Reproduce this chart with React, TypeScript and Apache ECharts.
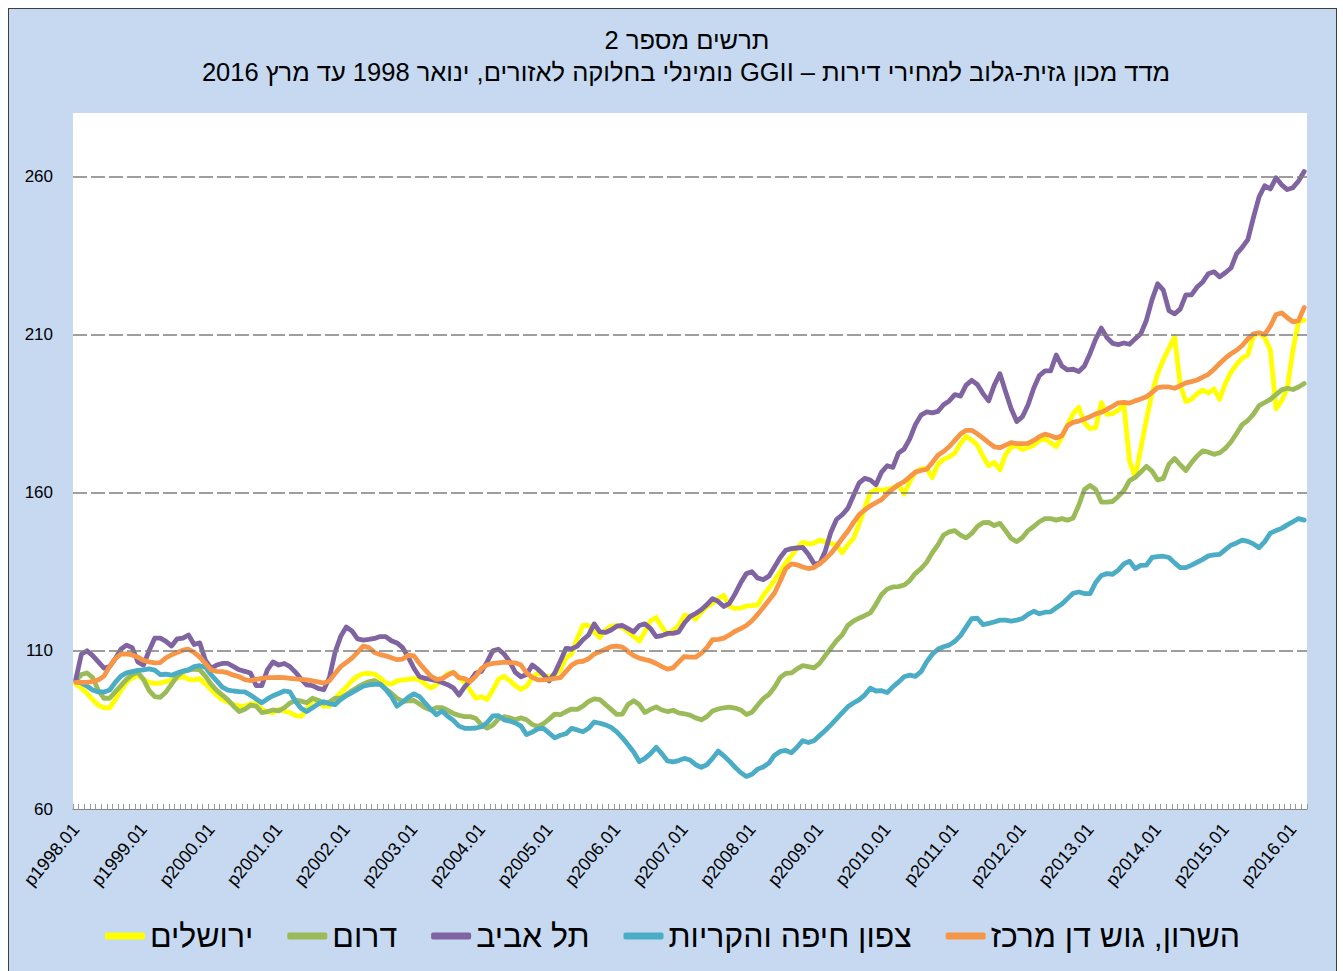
import React, { useEffect, useRef } from "react";
import * as echarts from "echarts";

// ---------- categories (monthly, Jan 1998 – Mar 2016) ----------
const YEARS = [1998, 1999, 2000, 2001, 2002, 2003, 2004, 2005, 2006, 2007, 2008, 2009, 2010, 2011, 2012, 2013, 2014, 2015, 2016];
const MONTHS = ["01", "02", "03", "04", "05", "06", "07", "08", "09", "10", "11", "12"];
const LAST_MONTH_OF_2016 = 3;
const CATEGORIES: string[] = [];
for (const y of YEARS) {
  for (let m = 0; m < 12; m++) {
    if (y === 2016 && m >= LAST_MONTH_OF_2016) break;
    CATEGORIES.push(`p${y}.${MONTHS[m]}`);
  }
}

// ---------- axis ----------
const Y_MIN = 60;
const Y_MAX = 280;
const Y_INTERVAL = 50;
const Y_TICK_LABELS = [60, 110, 160, 210, 260];
const GRID_LINES = [110, 160, 210, 260];

// ---------- texts ----------
const TITLE_1 = "תרשים מספר 2";
const TITLE_2 = "מדד מכון גזית-גלוב למחירי דירות – GGII נומינלי בחלוקה לאזורים, ינואר 1998 עד מרץ 2016";
const NAME_SHARON = "השרון, גוש דן מרכז";
const NAME_HAIFA = "צפון חיפה והקריות";
const NAME_TEL_AVIV = "תל אביב";
const NAME_SOUTH = "דרום";
const NAME_JERUSALEM = "ירושלים";

// ---------- series values (one row per year) ----------
const TEL_AVIV = [
  101, 109, 110, 108.5, 106.5, 104.5, 105, 107.5, 110.5, 111.8, 111, 106.5,
  105.5, 110, 114, 114, 113, 111.5, 113.8, 114, 115, 112, 112.5, 107,
  104.5, 105.5, 106, 106, 105, 104, 103.5, 103, 99, 99, 104, 106.5,
  105.5, 106, 105, 103.2, 101, 99.2, 99, 98.1, 97.7, 101.5, 109.5, 114.5,
  117.5, 116.3, 113.8, 113.4, 113.6, 113.9, 114.5, 114.5, 113.2, 112.5, 111, 108,
  104.5, 101.8, 101.3, 101, 100.6, 100, 99.3, 98.3, 96, 98.6, 100.5, 103,
  103.5, 106.5, 110, 110.5, 109, 106.6, 103.2, 101.8, 102.5, 105.5, 104.2, 102.5,
  100.5, 103, 106.8, 110.8, 110.6, 111.5, 113.5, 115, 118.5, 116, 115.8, 116.6,
  117.8, 118, 117, 116, 118, 118.5, 117, 114.5, 114.8, 115.5, 115.5, 116,
  118.8, 120.8, 121.8, 123, 124.6, 126.5, 125.6, 124, 125, 128, 131.5, 134.4,
  135, 133, 132.5, 133.6, 136.5, 139.5, 141.8, 142.3, 142.5, 142.7, 140.5, 137.6,
  137.5, 141.5, 147.5, 151.5, 153, 155, 159, 163, 164.5, 164, 162.5, 166.5,
  168.5, 168, 172.5, 173.8, 177, 181.5, 184.5, 185.5, 185.2, 185.7, 187.8, 189,
  191, 190.5, 194, 195.5, 194.2, 191.3, 189, 194, 197.6, 192, 186.5, 182.5,
  184, 187.8, 193, 197, 198.5, 198.5, 203.5, 200, 198.8, 199, 198.3, 200,
  204, 208.5, 212, 209, 207.2, 206.8, 207.3, 206.9, 208.6, 210.2, 214.5, 221,
  226, 224, 217.5, 216.5, 218, 222.5, 222.5, 225, 226.6, 229.2, 229.8, 228.2,
  229.5, 231, 235.5, 237.5, 240, 247, 253.5, 257, 256, 259.5, 257.3, 255.8,
  256.4, 258.5, 261.5,
];

const SHARON = [
  100, 100, 100, 100.3, 100.8, 102, 105, 107.5, 109, 109, 108.7, 108,
  107, 106.5, 106.2, 106.3, 107.8, 108.7, 109.5, 110.2, 110.5, 109.5, 108, 106,
  104, 103.5, 103.4, 103, 102.3, 101.8, 100.9, 100.6, 101, 101.3, 101.5, 101.5,
  101.6, 101.5, 101.3, 101.1, 101, 100.8, 100.5, 100.2, 99.8, 100.5, 102.8, 105,
  106.3, 107.7, 109.5, 111.5, 111, 109.5, 108.8, 108.4, 107.8, 107.2, 107.4, 108.6,
  108.4, 106, 104, 102, 101, 101.2, 102.3, 103.2, 101.5, 101.2, 100.3, 102,
  104.4, 105.6, 106, 106.2, 106.4, 106.3, 106.2, 105.5, 103, 101.6, 100.8, 100.8,
  101, 101.3, 101.5, 103.5, 105.5, 106.5, 106.7, 107.5, 109, 109.7, 110.5, 111.3,
  111.5, 111.2, 109.8, 108.5, 107.7, 107.2, 106.8, 106, 105, 104.2, 104.6, 106.5,
  108.2, 108, 108, 109.2, 111, 113.5, 113.6, 114, 115, 116.2, 117, 118,
  119.5, 121.5, 123.7, 126, 128.3, 132, 136, 137.5, 137.2, 136.5, 136, 136.3,
  137.5, 139, 140.8, 143, 145.5, 147.8, 150.5, 153, 154.5, 155.8, 156.8, 157.8,
  159.6, 161.2, 162.5, 163.5, 165, 166.5, 167, 167.4, 169.5, 171.8, 173, 174.5,
  176.5, 178.5, 179.7, 179.7, 178.6, 177.2, 175.8, 174.5, 174.2, 175, 175.8, 175.5,
  175.5, 175.6, 176.5, 177.7, 178.5, 178, 177.3, 178, 181.2, 182.2, 182.6, 183.3,
  184, 184.9, 185.4, 186.3, 187.3, 188.4, 188.5, 188.3, 189, 189.6, 190.3, 191.7,
  193.2, 193.4, 193.4, 193, 193.8, 194.7, 195.1, 195.6, 196.5, 197.4, 199, 200.8,
  202.5, 203.9, 205, 206.5, 208.6, 210.2, 210.5, 210, 212.6, 216.3, 216.8, 215.3,
  214, 214.4, 218.5,
];

const JERUSALEM = [
  99.5, 98.2, 96.5, 94.5, 92.8, 92, 92, 94.5, 97.5, 100, 101.5, 102.2,
  101, 100, 99.7, 99.8, 100.3, 100.8, 101.3, 102, 101, 100.8, 101.2, 99.5,
  97.8, 96, 94.6, 93.8, 93, 92.6, 92.5, 93.3, 93.2, 91.5, 90.8, 90.4,
  91.5, 90.9, 90.5, 89.5, 89.3, 91.5, 94.5, 94, 92.5, 92.5, 94.8, 96.8,
  98.5, 100.6, 102, 102.8, 102.9, 102.6, 101.5, 99.8, 99.5, 100.5, 100.8, 101,
  101.2, 100.8, 99.5, 98.2, 99.3, 101, 102.8, 103.2, 101.5, 100, 97.5, 95,
  95.5, 94.6, 97.6, 101, 102, 100.6, 99, 97.8, 98.8, 101.5, 103, 102.3,
  101.8, 102.6, 104, 107.8, 109, 114, 118, 118, 115.8, 114.2, 116.5, 117.8,
  118, 117.4, 116, 114.6, 113, 116, 119.5, 120.5, 117.5, 115.2, 116.5, 118,
  121.3, 121, 120, 122.2, 124, 125, 126.5, 127.5, 124, 123.4, 123.5, 124.2,
  124.3, 124.5, 127.5, 129.8, 132.3, 135, 137.8, 140, 142.5, 144.3, 143.8, 144,
  145, 144.5, 143.9, 143.5, 141, 143.5, 145.5, 150, 155, 160, 161, 160.8,
  161, 161.5, 162.5, 159.5, 163.5, 166.5, 167.5, 167.6, 164.8, 169, 170.5, 171.3,
  172.5, 175.5, 177.8, 176.6, 175, 171.5, 168.5, 169.5, 167.2, 172, 174.5, 174.8,
  173.6, 174.3, 175, 176.5, 177, 175.8, 174.5, 177.5, 181.5, 185, 187, 182,
  180.3, 180.5, 188.5, 184.7, 185, 186, 188, 170, 165, 174, 183, 191.5,
  197.6, 202, 205.6, 209.3, 194, 188.8, 189.5, 191.3, 192.4, 191.5, 192.8, 189.5,
  194.5, 198, 200.5, 202.5, 203.5, 209.5, 210.5, 209, 205, 186.5, 189, 193,
  205, 214, 214.5,
];

const SOUTH = [
  100.5, 102.5, 103, 101.5, 97.5, 95, 95, 97, 99, 101, 102.5, 103.2,
  101, 97.5, 95.5, 95.3, 97, 99.5, 102, 103.4, 103.9, 104.2, 104, 102,
  99.5, 97.5, 96, 94.5, 92.5, 90.8, 91.5, 92.8, 92.5, 90.5, 90.8, 91.3,
  91, 92, 93.5, 94.4, 94.1, 93.6, 95, 94.4, 93.5, 93.8, 95, 95,
  96.2, 97.4, 98.5, 99.5, 100.2, 100.6, 99.5, 98, 96.6, 95, 94, 94.2,
  94.3, 93.2, 92, 91.3, 92, 92, 91.2, 90.2, 89.6, 89.2, 89.2, 88.6,
  86.5, 85.6, 86.5, 88.5, 89.2, 88.8, 88.2, 88.8, 88.2, 86.7, 86.1, 87,
  88.4, 90, 89.8, 90.8, 91.6, 91.5, 92.5, 94, 94.8, 94.6, 93, 91.5,
  89.9, 90, 93, 94.2, 93, 90.5, 91.5, 92.3, 91.3, 90.8, 91.2, 90.4,
  90.1, 89.7, 88.8, 88.2, 89.2, 91, 91.6, 92, 92.2, 91.9, 91.3, 89.9,
  90.6, 92.8, 94.9, 96.2, 98.5, 101.5, 102.9, 103, 104.3, 105.3, 105, 104.6,
  106, 108.5, 110.8, 113.2, 115, 118, 119.4, 120.3, 121.1, 122, 124.7, 127.8,
  129.5, 130.2, 130.3, 130.8, 132.2, 134.5, 136, 138, 141, 143.5, 146.6, 147.6,
  148, 146.6, 145.7, 147.1, 149.3, 150.5, 150.6, 149.6, 150.3, 148, 145.5, 144.5,
  145.8, 148, 149.3, 150.8, 151.8, 151.8, 151.3, 151.8, 151.3, 152, 156, 161,
  162.3, 161, 157, 157, 157.2, 158.8, 160.6, 163.8, 164.8, 166.5, 168.3, 166.8,
  164, 164.5, 169, 170.8, 168.8, 167, 169.5, 171.6, 173.2, 172.8, 172.1, 172.6,
  174, 176, 178.7, 181.5, 182.8, 184.8, 187.5, 188.5, 189.5, 191, 192.5, 193,
  192.6, 193.4, 194.5,
];

const HAIFA = [
  100.5, 99.8, 98.8, 97.6, 97, 97, 97.6, 100, 102, 103, 103.4, 103.8,
  104, 104.3, 103.9, 102.5, 102.6, 102.3, 103, 103.6, 104, 105, 105.3, 104.8,
  102.5, 100.5, 98.5, 97.6, 97.3, 97.1, 97, 96, 94.8, 93.6, 94.8, 95.8,
  96.5, 97.3, 97, 94, 91.8, 90.8, 92, 93.2, 93.9, 93.3, 93, 94.6,
  95.8, 96.8, 97.8, 98.8, 99.2, 99.4, 99.5, 97.8, 95.6, 92.5, 93.8, 95.3,
  96.4, 95.5, 93.5, 91.5, 89.8, 91, 89.3, 88, 86.2, 85.5, 85.5, 85.6,
  86, 87.3, 89.4, 89.5, 88.2, 87.8, 87.2, 86.2, 83.5, 84.3, 85.3, 85.5,
  84, 82.5, 83.3, 83.8, 85.5, 85, 84.4, 85.5, 87.5, 87.1, 86.6, 85.8,
  84.4, 82.5, 80.3, 78, 75, 76, 77.5, 79.5, 77.5, 75.2, 74.9, 75.3,
  76, 75.5, 74, 73.2, 74, 76, 78.3, 76.8, 75.1, 73.2, 71.5, 70.3,
  71, 72.6, 73.3, 74.5, 77, 78.2, 78.5, 77.8, 79.5, 81.6, 81, 81.6,
  83.2, 84.8, 86.6, 88.5, 90.4, 92.3, 93.5, 94.5, 96, 98.2, 97.3, 97.4,
  96.8, 98.6, 100.1, 101.8, 102.3, 101.9, 103.4, 106.5, 108.9, 110.5, 111.3, 111.8,
  113, 114.8, 117.5, 120.2, 120.3, 118.3, 118.7, 119.1, 119.7, 119.7, 119.4, 119.7,
  120.2, 121.5, 122.5, 121.7, 122.2, 122.3, 123.6, 124.8, 126.5, 128.2, 128.6, 128.1,
  128.1, 131.6, 133.8, 134.4, 134.2, 135.5, 137.5, 138.3, 136, 137, 137.1, 139.5,
  139.8, 139.9, 139.5, 137.8, 136.3, 136.3, 137.1, 138, 138.9, 140, 140.3, 140.5,
  142, 143.4, 144.1, 145, 144.6, 143.8, 142.6, 144.5, 147.2, 148, 148.7, 149.8,
  150.8, 151.8, 151.3,
];

const COLOR_SHARON = "#F79646";
const COLOR_HAIFA = "#4BACC6";
const COLOR_TEL_AVIV = "#8064A2";
const COLOR_SOUTH = "#9BBB59";
const COLOR_JERUSALEM = "#FFFF00";

const FONT = '"Liberation Sans", Arial, "DejaVu Sans", sans-serif';
const RTL = (s: string) => "\u202B" + s + "\u202C";

function lineSeries(name: string, data: number[], color: string, extra: any = {}) {
  return {
    name,
    type: "line",
    data,
    symbol: "none",
    showSymbol: false,
    smooth: false,
    color,
    lineStyle: { color, width: 4.8, cap: "round", join: "round" },
    emphasis: { disabled: true },
    ...extra,
  };
}

export default function App() {
  const ref = useRef<HTMLDivElement>(null);

  useEffect(() => {
    if (!ref.current) return;
    const chart = echarts.init(ref.current, null, { renderer: "svg" });
    const titleStyle = (text: string) => ({
      text: RTL(text),
      font: `25.5px ${FONT}`,
      fill: "#000",
      textAlign: "center",
      textVerticalAlign: "middle",
      align: "center",
      verticalAlign: "middle",
    });
    const option: any = {
      animation: false,
      backgroundColor: "transparent",
      textStyle: { fontFamily: FONT },
      graphic: [
        { type: "text", x: 678, y: 31, style: titleStyle(TITLE_1) },
        { type: "text", x: 677, y: 63, style: titleStyle(TITLE_2) },
      ],
      legend: {
        data: [NAME_JERUSALEM, NAME_SOUTH, NAME_TEL_AVIV, NAME_HAIFA, NAME_SHARON],
        left: "center",
        top: 906,
        icon: "roundRect",
        itemWidth: 40,
        itemHeight: 7,
        itemGap: 34,
        selectedMode: false,
        textStyle: { fontSize: 32, color: "#000", fontFamily: FONT },
      },
      grid: {
        left: 64,
        top: 104,
        width: 1234,
        height: 696,
        show: true,
        backgroundColor: "#ffffff",
        borderWidth: 0,
      },
      xAxis: {
        type: "category",
        data: CATEGORIES,
        boundaryGap: true,
        axisLine: { show: true, lineStyle: { color: "#868686", width: 1 } },
        axisTick: {
          show: true,
          inside: true,
          length: 5,
          interval: 0,
          lineStyle: { color: "#9a9a9a", width: 1 },
        },
        axisLabel: {
          interval: (i: number) => i % 12 === 0,
          rotate: 50,
          fontSize: 18,
          color: "#000",
          margin: 17,
          fontFamily: FONT,
        },
        splitLine: { show: false },
      },
      yAxis: {
        type: "value",
        min: Y_MIN,
        max: Y_MAX,
        interval: Y_INTERVAL,
        axisLine: { show: false },
        axisTick: { show: false },
        splitLine: { show: false },
        axisLabel: {
          formatter: (v: number) => (Y_TICK_LABELS.includes(v) ? String(v) : ""),
          fontSize: 17,
          color: "#000",
          margin: 20,
          fontFamily: FONT,
        },
      },
      series: [
        lineSeries(NAME_JERUSALEM, JERUSALEM, COLOR_JERUSALEM, {
          markLine: {
            silent: true,
            symbol: ["none", "none"],
            label: { show: false },
            lineStyle: { color: "#7f7f7f", type: [14, 4], width: 1.5 },
            emphasis: { disabled: true },
            data: GRID_LINES.map((v) => ({ yAxis: v })),
          },
        }),
        lineSeries(NAME_SOUTH, SOUTH, COLOR_SOUTH),
        lineSeries(NAME_HAIFA, HAIFA, COLOR_HAIFA),
        lineSeries(NAME_TEL_AVIV, TEL_AVIV, COLOR_TEL_AVIV),
        lineSeries(NAME_SHARON, SHARON, COLOR_SHARON),
      ],
    };
    chart.setOption(option);
    return () => chart.dispose();
  }, []);

  return (
    <div
      style={{
        position: "absolute",
        left: 8,
        top: 8,
        width: 1329,
        height: 963,
        boxSizing: "border-box",
        border: "1px solid #3f3f3f",
        borderBottom: "none",
        background: "#c6d9f1",
      }}
    >
      <div ref={ref} style={{ width: 1327, height: 962 }} />
    </div>
  );
}
